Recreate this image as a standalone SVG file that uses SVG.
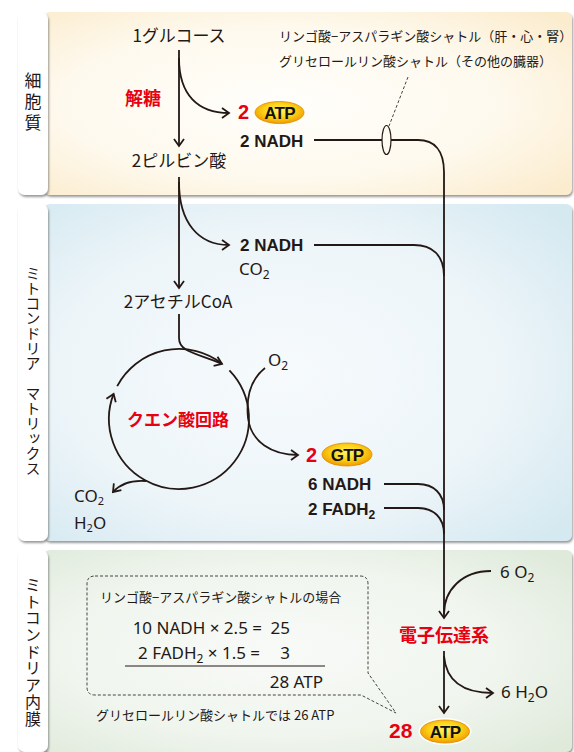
<svg xmlns="http://www.w3.org/2000/svg" width="574" height="752" viewBox="0 0 574 752">
<defs>
  <radialGradient id="gCyto" cx="0.45" cy="0.5" r="0.7">
    <stop offset="0" stop-color="#fffefb"/>
    <stop offset="0.6" stop-color="#fef9ed"/>
    <stop offset="1" stop-color="#fbecce"/>
  </radialGradient>
  <radialGradient id="gMat" cx="0.45" cy="0.5" r="0.7">
    <stop offset="0" stop-color="#f6fafc"/>
    <stop offset="0.6" stop-color="#edf5f9"/>
    <stop offset="1" stop-color="#d5e9f1"/>
  </radialGradient>
  <radialGradient id="gMem" cx="0.45" cy="0.5" r="0.7">
    <stop offset="0" stop-color="#f8faf7"/>
    <stop offset="0.6" stop-color="#f0f5ee"/>
    <stop offset="1" stop-color="#dfeadb"/>
  </radialGradient>
  <radialGradient id="gOval" cx="0.5" cy="0.42" r="0.6">
    <stop offset="0" stop-color="#fff566"/>
    <stop offset="0.55" stop-color="#fcd116"/>
    <stop offset="1" stop-color="#ee9500"/>
  </radialGradient>
  <filter id="shadow" x="-5%" y="-5%" width="112%" height="115%">
    <feDropShadow dx="1" dy="2" stdDeviation="1.2" flood-color="#555" flood-opacity="0.6"/>
  </filter>
  <marker id="arr" markerWidth="14" markerHeight="14" refX="9" refY="6" orient="auto" markerUnits="userSpaceOnUse">
    <path d="M2,1 L9,6 L2,11" fill="none" stroke="#231815" stroke-width="1.8"/>
  </marker>
</defs>
<style>
  .jp{font-family:"Noto Sans CJK JP","Noto Sans",sans-serif;fill:#231815}
  .lat{font-family:"Noto Sans","Liberation Sans",sans-serif;fill:#231815}
  .b{font-family:"Liberation Sans",Arial,sans-serif;font-weight:bold;fill:#231815}
  .red{fill:#e60012}
  .rb{font-family:"Noto Sans CJK JP",sans-serif;font-weight:bold;fill:#e60012}
  .ln{fill:none;stroke:#231815;stroke-width:1.8}
  .tab{fill:#ffffff}
  .vt{writing-mode:vertical-rl;text-orientation:upright}
  .oval{fill:url(#gOval);stroke:#e08a00;stroke-width:0.8}
  .ov{font-family:"Liberation Sans",Arial,sans-serif;font-weight:bold;fill:#111;font-size:17px;letter-spacing:-0.8px}
</style>

<!-- Section panels -->
<g id="sec-cytoplasm">
  <rect x="44" y="12" width="528" height="183" rx="6" fill="url(#gCyto)" filter="url(#shadow)"/>
  <rect class="tab" x="18" y="12" width="30" height="183" rx="7" filter="url(#shadow)"/>
  <text class="jp vt" x="33" y="104" font-size="17" letter-spacing="4" text-anchor="middle">細胞質</text>
</g>
<g id="sec-matrix">
  <rect x="44" y="204" width="528" height="337" rx="6" fill="url(#gMat)" filter="url(#shadow)"/>
  <rect class="tab" x="18" y="204" width="30" height="337" rx="7" filter="url(#shadow)"/>
  <text class="jp vt" x="33" y="371" font-size="15" text-anchor="middle">ミトコンドリア マトリックス</text>
</g>
<g id="sec-membrane">
  <rect x="44" y="550" width="528" height="202" rx="6" fill="url(#gMem)" filter="url(#shadow)"/>
  <rect class="tab" x="18" y="550" width="30" height="202" rx="7" filter="url(#shadow)"/>
  <text class="jp vt" x="33" y="652" font-size="16" letter-spacing="0.7" text-anchor="middle">ミトコンドリア内膜</text>
</g>

<!-- Connectors -->
<g id="connectors">
  <path class="ln" d="M179,50 V146" marker-end="url(#arr)"/>
  <path class="ln" d="M179,58 C179,95 198,113 229,113" marker-end="url(#arr)"/>
  <path class="ln" d="M179,177 V288" marker-end="url(#arr)"/>
  <path class="ln" d="M179,182 C179,222 198,245 229,245" marker-end="url(#arr)"/>
  <path class="ln" d="M179,314 V338 C179,352 196,353 222,364" marker-end="url(#arr)"/>
  <path class="ln" d="M117.2,386.1 A70,70 0 0 1 222.1,363.8"/>
  <path class="ln" d="M229.4,370.4 A70,70 0 1 1 113.6,393.9" marker-end="url(#arr)"/>
  <path class="ln" d="M146,481 C132,480 120,484 113,492" marker-end="url(#arr)"/>
  <path class="ln" d="M265,368 C250,380 246,398 248,418 C251,442 272,455 298,455" marker-end="url(#arr)"/>
  <path class="ln" d="M314,140 H382"/>
  <ellipse cx="386.5" cy="140" rx="4.5" ry="14.5" fill="none" stroke="#231815" stroke-width="1.2"/>
  <path d="M408,77 L389,126" fill="none" stroke="#444" stroke-width="1" stroke-dasharray="3,2"/>
  <path class="ln" d="M391,140 H418 C434,140 444,150 444,172 V618" marker-end="url(#arr)"/>
  <path class="ln" d="M314,245 H414 C432,245 444,255 444,276"/>
  <path class="ln" d="M384,484 H418 C434,484 444,494 444,510"/>
  <path class="ln" d="M384,508 H418 C434,508 444,518 444,534"/>
  <path class="ln" d="M491,571 C462,571 444,590 444,614"/>
  <path class="ln" d="M444,651 V713" marker-end="url(#arr)"/>
  <path class="ln" d="M444,656 C446,680 462,693 493,693" marker-end="url(#arr)"/>
</g>

<!-- Nodes -->
<g id="glucose"><text class="jp" x="179" y="42" font-size="17" text-anchor="middle">1グルコース</text></g>
<g id="shuttle-note">
  <text class="jp" x="279" y="41" font-size="13">リンゴ酸−アスパラギン酸シャトル（肝・心・腎）</text>
  <text class="jp" x="279" y="66" font-size="13">グリセロールリン酸シャトル（その他の臓器）</text>
</g>
<g id="glycolysis"><text class="rb" x="125" y="105" font-size="18">解糖</text></g>
<g id="atp-glycolysis">
  <text class="b red" x="238" y="119" font-size="20">2</text>
  <ellipse class="oval" cx="279.5" cy="112.5" rx="24.5" ry="11"/>
  <text class="ov" x="279.5" y="118.5" text-anchor="middle">ATP</text>
</g>
<g id="nadh-cyto"><text class="b" x="240" y="147" font-size="17">2 NADH</text></g>
<g id="pyruvate"><text class="jp" x="179" y="167" font-size="17" text-anchor="middle">2ピルビン酸</text></g>
<g id="nadh-pdh">
  <text class="b" x="240" y="251" font-size="17">2 NADH</text>
  <text class="lat" x="239" y="275" font-size="17">CO<tspan font-size="12" dy="4">2</tspan></text>
</g>
<g id="acetylcoa"><text class="jp" x="178" y="308" font-size="17" text-anchor="middle">2アセチルCoA</text></g>
<g id="tca"><text class="rb" x="178" y="426" font-size="17" text-anchor="middle">クエン酸回路</text></g>
<g id="o2-matrix"><text class="lat" x="268" y="366" font-size="17">O<tspan font-size="12" dy="4">2</tspan></text></g>
<g id="co2-h2o">
  <text class="lat" x="74" y="502" font-size="17">CO<tspan font-size="11" dy="3">2</tspan></text>
  <text class="lat" x="74" y="529" font-size="17">H<tspan font-size="11" dy="3">2</tspan><tspan dy="-3">O</tspan></text>
</g>
<g id="gtp">
  <text class="b red" x="306" y="462" font-size="20">2</text>
  <ellipse class="oval" cx="347" cy="454.5" rx="25" ry="11.5"/>
  <text class="ov" x="347" y="460.5" text-anchor="middle">GTP</text>
</g>
<g id="nadh-tca"><text class="b" x="308" y="490" font-size="17">6 NADH</text></g>
<g id="fadh2-tca"><text class="b" x="308" y="515" font-size="17">2 FADH<tspan font-size="12" dy="4">2</tspan></text></g>
<g id="o2-etc"><text class="lat" x="500" y="578" font-size="17">6 O<tspan font-size="12" dy="4">2</tspan></text></g>
<g id="etc"><text class="rb" x="444" y="642" font-size="18" text-anchor="middle">電子伝達系</text></g>
<g id="h2o-etc"><text class="lat" x="501" y="698" font-size="17">6 H<tspan font-size="12" dy="4">2</tspan><tspan dy="-4">O</tspan></text></g>
<g id="atp-etc">
  <text class="b red" x="389" y="738" font-size="21">28</text>
  <ellipse cx="445" cy="731.5" rx="26.5" ry="13.5" fill="#fff"/>
  <ellipse class="oval" cx="445" cy="731.5" rx="24.5" ry="11.5"/>
  <text class="ov" x="445" y="737.5" text-anchor="middle">ATP</text>
</g>
<g id="callout">
  <path d="M95,576 H360 Q368,576 368,584 V673 L396,713 L361,695 H95 Q87,695 87,687 V584 Q87,576 95,576 Z" fill="none" stroke="#444" stroke-width="1" stroke-dasharray="3,2"/>
  <text class="jp" x="100" y="602" font-size="13">リンゴ酸−アスパラギン酸シャトルの場合</text>
  <text class="lat" y="634" font-size="17"><tspan x="262" text-anchor="end">10 NADH × 2.5 =</tspan><tspan x="290" text-anchor="end">25</tspan></text>
  <text class="lat" y="659" font-size="17"><tspan x="138">2 FADH</tspan><tspan font-size="12" dy="4">2</tspan><tspan dy="-4"> × 1.5 =</tspan><tspan x="290" text-anchor="end">3</tspan></text>
  <path d="M125,666 H325" stroke="#231815" stroke-width="1.2"/>
  <text class="lat" x="323" y="688" font-size="17" text-anchor="end">28 ATP</text>
</g>
<g id="glycerol-note"><text class="jp" x="96" y="720" font-size="13">グリセロールリン酸シャトルでは 26 ATP</text></g>
</svg>
